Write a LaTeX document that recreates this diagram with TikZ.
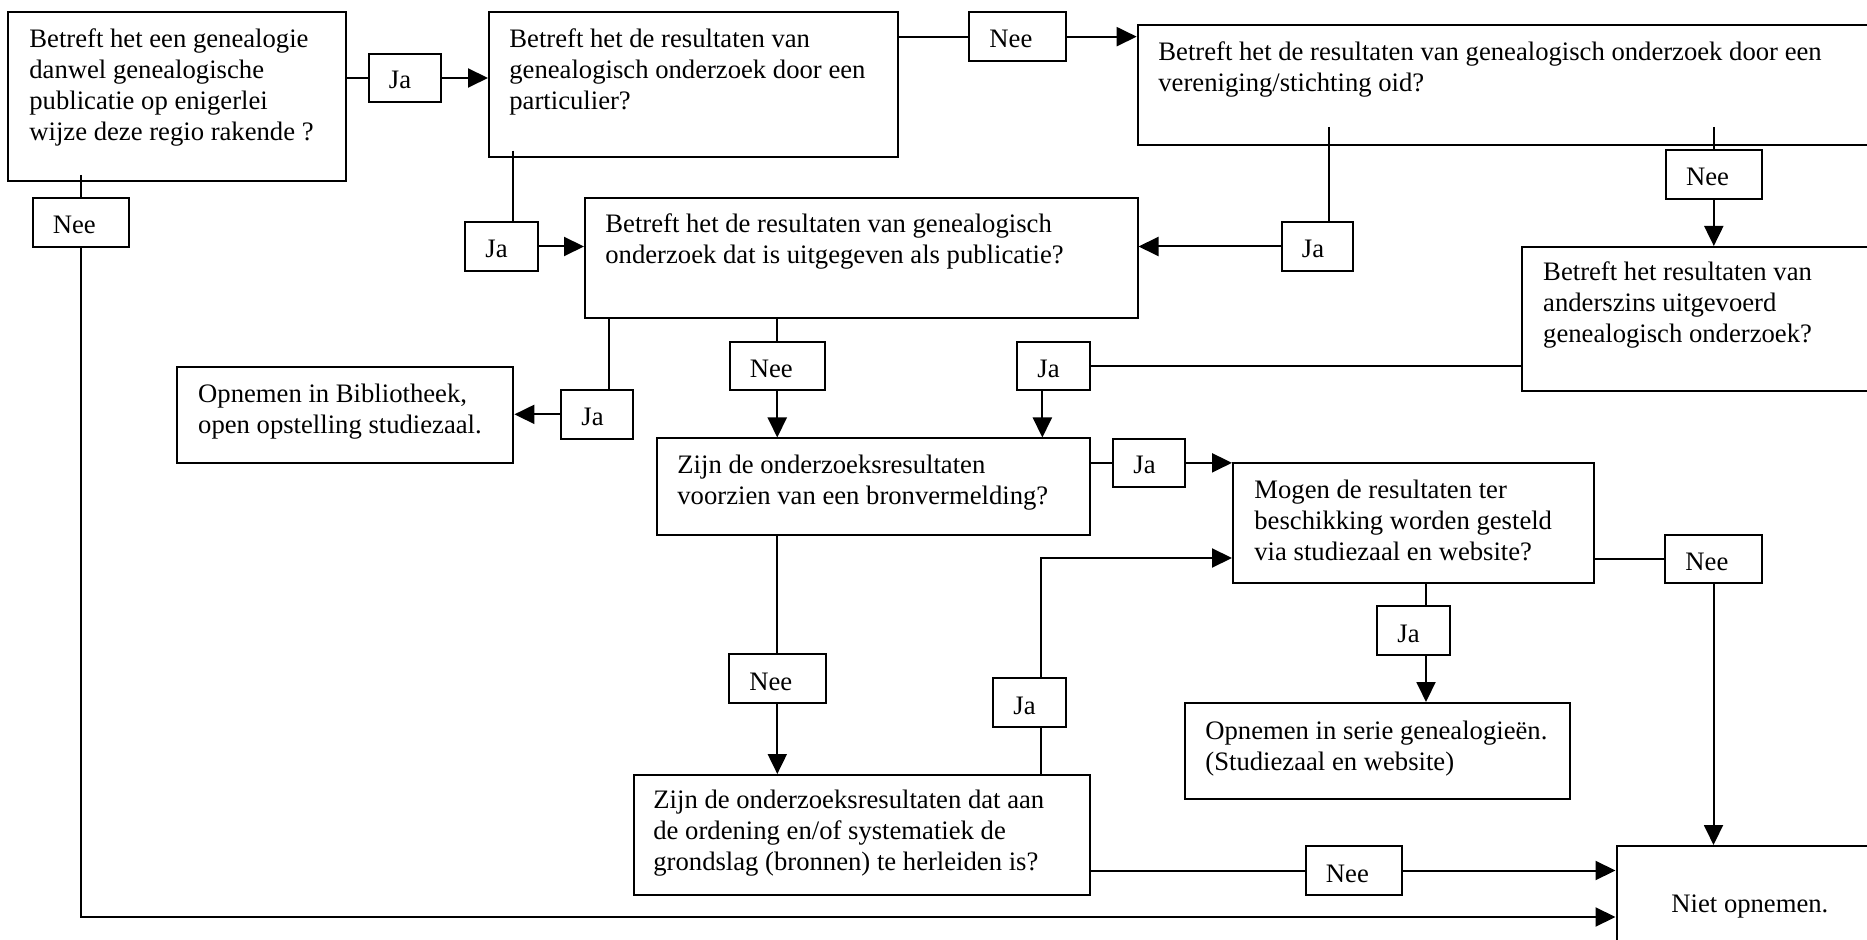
\documentclass[tikz,border=0pt]{standalone}
\usepackage{fontspec}
\setmainfont{Liberation Serif}
\usetikzlibrary{fit,arrows.meta}
\newcommand\diafont{\fontsize{13.33}{15.5}\selectfont}
\begin{document}
\begin{tikzpicture}[x=0.5pt,y=-0.5pt,
  every node/.style={font=\diafont},
  box/.style={draw, line width=1pt, inner sep=0pt, rectangle},
  txt/.style={anchor=north west, inner sep=0pt, align=left},
  lbl/.style={draw, line width=1pt, inner sep=0pt, rectangle},
  lbltxt/.style={anchor=base west, inner sep=0pt},
  conn/.style={line width=1pt},
  arr/.style={conn, -{Triangle[length=10pt,width=9.5pt]}}]
\useasboundingbox (0,0) rectangle (1867,940);
\clip (0,0) rectangle (1867,940);

% question and outcome boxes
\node[box, fit={(8.4,12.3) (345.6,181)}] (A) {};
\node[box, fit={(489,12.3) (898,156.7)}] (B) {};
\node[box, fit={(1137.7,25) (1920,145)}] (D) {};
\node[box, fit={(585,198) (1137.5,318.5)}] (C) {};
\node[box, fit={(1521.7,247) (1920,391)}] (E) {};
\node[box, fit={(176.8,366.7) (513.4,462.7)}] (Bib) {};
\node[box, fit={(657,438.5) (1090,535)}] (F) {};
\node[box, fit={(1233,463) (1594,583)}] (G) {};
\node[box, fit={(1185,703) (1570,798.5)}] (S) {};
\node[box, fit={(633.5,775) (1089.5,894.5)}] (H) {};
\node[box, fit={(1616.5,846) (1882,990)}] (N) {};

% box texts
\node[txt] (At) at (29,28.7) {Betreft het een genealogie\\danwel genealogische\\publicatie op enigerlei\\wijze deze regio rakende ?};
\node[txt] (Bt) at (509,28.7) {Betreft het de resultaten van\\genealogisch onderzoek door een\\particulier?};
\node[txt] (Dt) at (1158,41.7) {Betreft het de resultaten van genealogisch onderzoek door een\\vereniging/stichting oid?};
\node[txt] (Ct) at (605,213.7) {Betreft het de resultaten van genealogisch\\onderzoek dat is uitgegeven als publicatie?};
\node[txt] (Et) at (1542.8,261.7) {Betreft het resultaten van\\anderszins uitgevoerd\\genealogisch onderzoek?};
\node[txt] (Bibt) at (197.8,383.4) {Opnemen in Bibliotheek,\\open opstelling studiezaal.};
\node[txt] (Ft) at (677,454.7) {Zijn de onderzoeksresultaten\\voorzien van een bronvermelding?};
\node[txt] (Gt) at (1254,479.7) {Mogen de resultaten ter\\beschikking worden gesteld\\via studiezaal en website?};
\node[txt] (St) at (1205,720.7) {Opnemen in serie genealogieën.\\(Studiezaal en website)};
\node[txt] (Ht) at (653,789.7) {Zijn de onderzoeksresultaten dat aan\\de ordening en/of systematiek de\\grondslag (bronnen) te herleiden is?};
\node[anchor=base west, inner sep=0pt] (Nt) at (1671,912) {Niet opnemen.};

% answer label boxes
\node[lbl, fit={(368.5,54) (441.2,102)}] (j1) {};
\node[lbl, fit={(969,12.3) (1066,61)}] (nB) {};
\node[lbl, fit={(32.5,198) (129.4,247)}] (nA) {};
\node[lbl, fit={(465,222) (537.7,271)}] (jB) {};
\node[lbl, fit={(1281.5,222) (1353.4,271)}] (jD) {};
\node[lbl, fit={(1665.6,150) (1762,199)}] (nD) {};
\node[lbl, fit={(561,390) (633,438.7)}] (jBib) {};
\node[lbl, fit={(729.5,342.3) (825,390.3)}] (nC) {};
\node[lbl, fit={(1017,342.3) (1089.7,390.3)}] (jE) {};
\node[lbl, fit={(1113,439) (1185,486.7)}] (jF) {};
\node[lbl, fit={(1665,534.6) (1762,583)}] (nG) {};
\node[lbl, fit={(1377,606) (1450,655)}] (jG) {};
\node[lbl, fit={(729,654) (825.6,703)}] (nF) {};
\node[lbl, fit={(993,678) (1065.5,727)}] (jH) {};
\node[lbl, fit={(1305.5,846) (1401.5,895)}] (nH) {};

% answer label texts
\foreach \b/\t in {j1/Ja, nB/Nee, nA/Nee, jB/Ja, jD/Ja, nD/Nee, jBib/Ja, nC/Nee,
                   jE/Ja, jF/Ja, nG/Nee, jG/Ja, nF/Nee, jH/Ja, nH/Nee}
  \node[lbltxt] (\b t) at ([xshift=10.5pt,yshift=7pt]\b.south west) {\t};

% off-centre attachment points
\coordinate (jBt) at ([xshift=5.8pt]jB.north);
\coordinate (jDt) at ([xshift=6pt]jD.north);
\coordinate (jEb) at ([xshift=-5.5pt]jE.south);
\coordinate (jBibt) at ([xshift=6.2pt]jBib.north);
\coordinate (jHb) at ([xshift=6pt]jH.south);
\coordinate (jHt) at ([xshift=6pt]jH.north);
\coordinate (jGt) at ([xshift=6.25pt]jG.north);
\coordinate (jGb) at ([xshift=6.25pt]jG.south);
\coordinate (Gin) at ([yshift=-17.5pt]G.west);
\coordinate (Nlow) at ([yshift=-36pt]N.north west);
% connector starts that reach a little way into their box
\path (nA.north |- A.south) ++(0,-7) coordinate (Aout);
\path (jBt |- B.south) ++(0,-7) coordinate (Bout);
\path (jDt |- D.south) ++(0,-19) coordinate (Dja);
\path (nD.north |- D.south) ++(0,-19) coordinate (Dnee);

% connectors
\draw[conn] (A.east |- j1.west) -- (j1.west);
\draw[arr] (j1.east) -- (j1.east -| B.west);
\draw[conn] (B.east |- nB.west) -- (nB.west);
\draw[arr] (nB.east) -- (nB.east -| D.west);
\draw[conn] (Aout) -- (nA.north);
\draw[arr] (nA.south) |- (Nlow);
\draw[conn] (Bout) -- (jBt);
\draw[arr] (jB.east) -- (jB.east -| C.west);
\draw[conn] (Dja) -- (jDt);
\draw[arr] (jD.west) -- (jD.west -| C.east);
\draw[conn] (Dnee) -- (nD.north);
\draw[arr] (nD.south) -- (nD.south |- E.north);
\draw[conn] (E.west |- jE.east) -- (jE.east);
\draw[arr] (jEb) -- (jEb |- F.north);
\draw[conn] (jBibt |- C.south) -- (jBibt);
\draw[arr] (jBib.west) -- (jBib.west -| Bib.east);
\draw[conn] (nC.north |- C.south) -- (nC.north);
\draw[arr] (nC.south) -- (nC.south |- F.north);
\draw[conn] (F.east |- jF.west) -- (jF.west);
\draw[arr] (jF.east) -- (jF.east -| G.west);
\draw[conn] (nF.north |- F.south) -- (nF.north);
\draw[arr] (nF.south) -- (nF.south |- H.north);
\draw[conn] (jHb |- H.north) -- (jHb);
\draw[arr] (jHt) |- (Gin);
\draw[conn] (jGt |- G.south) -- (jGt);
\draw[arr] (jGb) -- (jGb |- S.north);
\draw[conn] (G.east |- nG.west) -- (nG.west);
\draw[arr] (nG.south) -- (nG.south |- N.north);
\draw[conn] (H.east |- nH.west) -- (nH.west);
\draw[arr] (nH.east) -- (nH.east -| N.west);
\end{tikzpicture}
\end{document}
